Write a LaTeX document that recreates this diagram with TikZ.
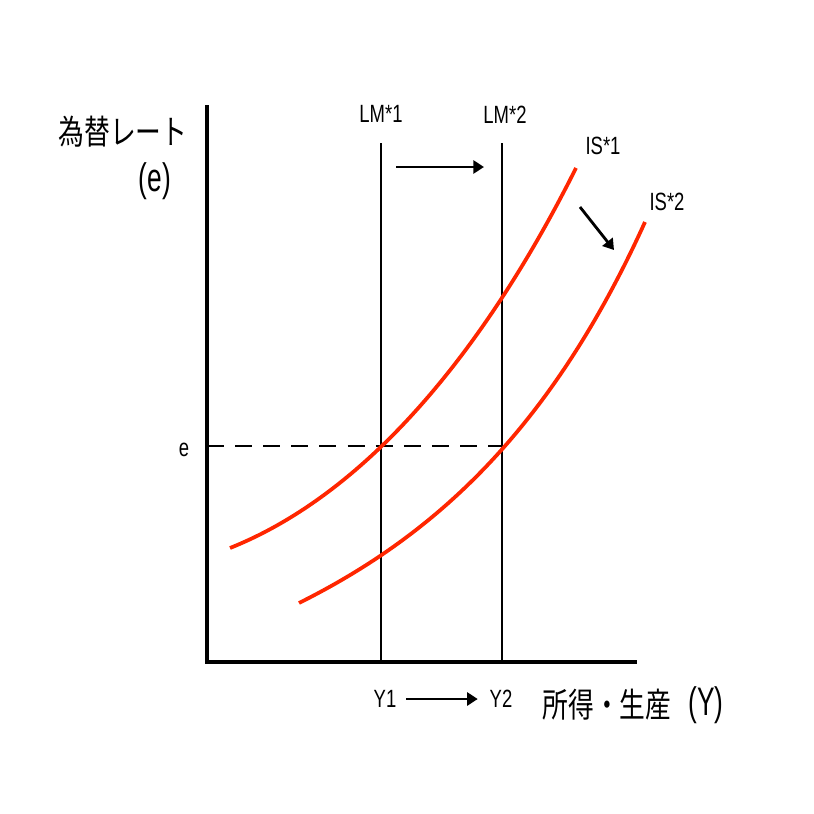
\documentclass[tikz,border=0pt]{standalone}
\usepackage{fontspec}
\setmainfont{Liberation Sans}[FakeStretch=0.74]
\newfontfamily\jpfont{Noto Sans CJK JP}[FakeStretch=0.76]
\newfontfamily\parenfont{Liberation Sans}[FakeStretch=0.66]
\usetikzlibrary{arrows.meta}
\definecolor{cIS}{RGB}{255,38,0}

\begin{document}
\begin{tikzpicture}[x=0.03cm,y=-0.03cm,
  lbl/.style={font=\fontsize{21.3}{24}\selectfont,inner sep=0pt},
  jlbl/.style={font=\jpfont\fontsize{28.9}{32}\selectfont,inner sep=0pt},
  plbl/.style={font=\parenfont\fontsize{34}{38}\selectfont,inner sep=0pt},
  axisline/.style={line width=3.4pt},
  lmline/.style={line width=1.6pt},
  iscurve/.style={cIS,line width=3.2pt},
  shiftarrow/.style={line width=2.4pt,-{Triangle[length=9pt,width=11pt]}}]
\useasboundingbox (0,0) rectangle (814,814);
% axes
\coordinate (O) at (207,662);
\coordinate (ytop) at (207,105);
\coordinate (xend) at (637,662);
\draw[axisline] (ytop) -- (O) -- (xend);
\node[jlbl] (ylbl) at (123,132) {為替レート};
\node[plbl] (ylble) at (155,181) {(e)};
\node[jlbl] (xlbl) at (607,705) {所得・生産};
\node[plbl] (xlblY) at (706,705) {(Y)};
% LM* lines
\coordinate (lm1top) at (381,143);
\coordinate (lm1bot) at (381,662);
\coordinate (lm2top) at (502,143);
\coordinate (lm2bot) at (502,662);
\draw[lmline] (lm1top) -- (lm1bot);
\draw[lmline] (lm2top) -- (lm2bot);
\node[lbl] (lm1) at (381,114) {LM*1};
\node[lbl] (lm2) at (505,115) {LM*2};
\coordinate (lmfrom) at (396,167);
\coordinate (lmto) at (484,167);
\draw[shiftarrow] (lmfrom) -- (lmto);
% equilibrium e
\coordinate (Eax) at (207,446);
\coordinate (E1) at (381,446);
\coordinate (E2) at (502,446);
\draw[line width=2.5pt,dash pattern=on 14.5pt off 9.5pt] (Eax) -- (E2);
\node[lbl] (elbl) at (184,450) {e};
% IS* curves
\draw[iscurve] (230,548) .. controls (380,488) and (496,328) .. (576,168);
\draw[iscurve] (299,603) .. controls (429,538) and (548,436) .. (645,222);
\node[lbl] (is1) at (603,146) {IS*1};
\node[lbl] (is2) at (667,202) {IS*2};
\coordinate (isfrom) at (580,207);
\coordinate (isto) at (614,250);
\draw[shiftarrow] (isfrom) -- (isto);
% Y1 -> Y2
\node[lbl] (y1) at (385,699) {Y1};
\node[lbl] (y2) at (501,699) {Y2};
\draw[shiftarrow,shorten <=8.5pt,shorten >=10pt] (y1) -- (y2);
\end{tikzpicture}
\end{document}
